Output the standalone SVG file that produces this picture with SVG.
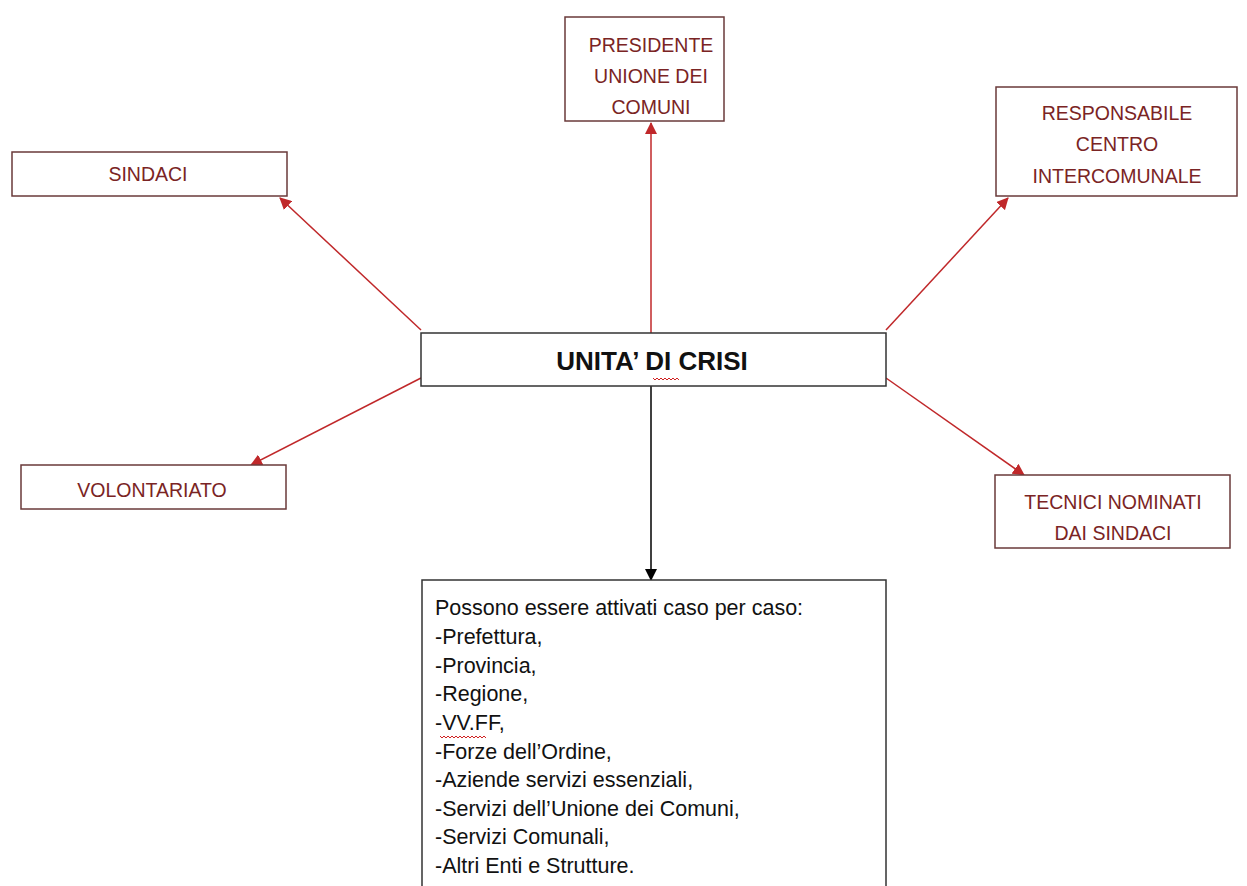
<svg xmlns="http://www.w3.org/2000/svg" width="1247" height="886" viewBox="0 0 1247 886">
<defs>
<marker id="ar" markerWidth="12" markerHeight="12" refX="11" refY="6" orient="auto" markerUnits="userSpaceOnUse"><path d="M0,0 L12,6 L0,12 z" fill="#c0282a"/></marker>
<marker id="ab" markerWidth="12" markerHeight="12" refX="11" refY="6" orient="auto" markerUnits="userSpaceOnUse"><path d="M0,0 L12,6 L0,12 z" fill="#000"/></marker>
</defs>
<style>
.box{fill:#fff;stroke:#6a3a3a;stroke-width:1.5}
.bb{fill:#fff;stroke:#333;stroke-width:1.5}
.t{font-family:"Liberation Sans",Arial,sans-serif;font-size:19.5px;fill:#7a2424;text-anchor:middle}
.m{font-family:"Liberation Sans",Arial,sans-serif;font-size:26px;font-weight:bold;fill:#111;text-anchor:middle}
.l{font-family:"Liberation Sans",Arial,sans-serif;font-size:21.5px;fill:#111}
.r{stroke:#c0282a;stroke-width:1.5;fill:none}
.k{stroke:#000;stroke-width:1.5;fill:none}
.w{stroke:#d02020;stroke-width:1;fill:none}
</style>
<rect width="1247" height="886" fill="#fff"/>
<g id="connectors">
<line class="r" x1="651" y1="333" x2="651" y2="123" marker-end="url(#ar)"/>
<line class="r" x1="421" y1="330" x2="280" y2="198" marker-end="url(#ar)"/>
<line class="r" x1="886" y1="330" x2="1008" y2="198" marker-end="url(#ar)"/>
<line class="r" x1="421" y1="378" x2="251" y2="465" marker-end="url(#ar)"/>
<line class="r" x1="886" y1="378" x2="1024" y2="475" marker-end="url(#ar)"/>
<line class="k" x1="651" y1="386" x2="651" y2="580" marker-end="url(#ab)"/>
</g>
<g id="presidente">
<rect class="box" x="565" y="17" width="159" height="104"/>
<text class="t" x="651" y="52">PRESIDENTE</text>
<text class="t" x="651" y="83">UNIONE DEI</text>
<text class="t" x="651" y="114">COMUNI</text>
</g>
<g id="sindaci">
<rect class="box" x="12" y="152" width="275" height="44"/>
<text class="t" x="148" y="181">SINDACI</text>
</g>
<g id="responsabile">
<rect class="box" x="996" y="87" width="241" height="109"/>
<text class="t" x="1117" y="120">RESPONSABILE</text>
<text class="t" x="1117" y="151">CENTRO</text>
<text class="t" x="1117" y="183">INTERCOMUNALE</text>
</g>
<g id="unita">
<rect class="bb" x="421" y="333" width="465" height="53"/>
<text class="m" x="652" y="370">UNITA’ DI CRISI</text>
<path class="w" d="M653,378 l2,2 l2,-2 l2,2 l2,-2 l2,2 l2,-2 l2,2 l2,-2 l2,2 l2,-2 l2,2 l2,-2 l2,2"/>
</g>
<g id="volontariato">
<rect class="box" x="21" y="465" width="265" height="44"/>
<text class="t" x="152" y="497">VOLONTARIATO</text>
</g>
<g id="tecnici">
<rect class="box" x="995" y="475" width="235" height="73"/>
<text class="t" x="1113" y="509">TECNICI NOMINATI</text>
<text class="t" x="1113" y="540">DAI SINDACI</text>
</g>
<g id="attivati">
<rect class="bb" x="422" y="580" width="464" height="320"/>
<text class="l" x="435" y="615">Possono essere attivati caso per caso:</text>
<text class="l" x="435" y="644">-Prefettura,</text>
<text class="l" x="435" y="673">-Provincia,</text>
<text class="l" x="435" y="701">-Regione,</text>
<text class="l" x="435" y="730">-VV.FF,</text>
<path class="w" d="M440,736 l2,2 l2,-2 l2,2 l2,-2 l2,2 l2,-2 l2,2 l2,-2 l2,2 l2,-2 l2,2 l2,-2 l2,2 l2,-2 l2,2 l2,-2 l2,2 l2,-2 l2,2 l2,-2 l2,2 l2,-2 l2,2"/>
<text class="l" x="435" y="759">-Forze dell’Ordine,</text>
<text class="l" x="435" y="787">-Aziende servizi essenziali,</text>
<text class="l" x="435" y="816">-Servizi dell’Unione dei Comuni,</text>
<text class="l" x="435" y="844">-Servizi Comunali,</text>
<text class="l" x="435" y="873">-Altri Enti e Strutture.</text>
</g>
</svg>
